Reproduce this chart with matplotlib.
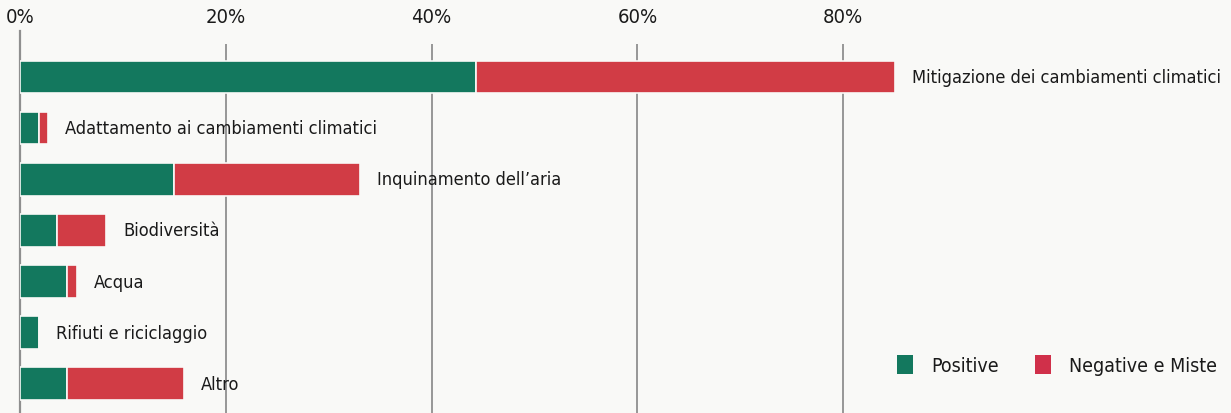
import numpy as np
import matplotlib
matplotlib.use("Agg")
import matplotlib.pyplot as plt
from matplotlib.patches import Patch

plt.rcParams['font.family'] = ['DejaVu Sans']
plt.rcParams['font.stretch'] = 'condensed'

# share of projects by environmental objective (%)
categories = [
    "Mitigazione dei cambiamenti climatici",
    "Adattamento ai cambiamenti climatici",
    "Inquinamento dell\u2019aria",
    "Biodiversità",
    "Acqua",
    "Rifiuti e riciclaggio",
    "Altro",
]
positive = [44.3, 1.8, 15.0, 3.6, 4.6, 1.8, 4.6]
negative = [40.7, 0.9, 18.0, 4.8, 0.9, 0.0, 11.3]
ticks = [0, 20, 40, 60, 80]
tick_labels = ["0%", "20%", "40%", "60%", "80%"]
legend_labels = ["Positive", "Negative e Miste"]

green = "#13785e"
red = "#d13c45"
bg = "#f9f9f7"

fig = plt.figure(figsize=(12.31, 4.14), dpi=100, facecolor=bg)
ax = fig.add_axes([20 / 1231, 0.0, 1 - 20 / 1231, 1 - 45 / 414])
ax.set_facecolor(bg)

y = np.arange(len(categories))
pos = np.array(positive)
neg = np.array(negative)

ax.barh(y, pos, height=0.64, color=green, edgecolor=bg, linewidth=1.2, zorder=3)
ax.barh(y, neg, left=pos, height=0.64, color=red, edgecolor=bg, linewidth=1.2, zorder=3)

for i, name in enumerate(categories):
    ax.annotate(name, (pos[i] + neg[i], y[i]), xytext=(12.5, 0),
                textcoords="offset points", va="center", ha="left",
                fontsize=13.1, color="#1a1a1a", zorder=4)

ax.set_xlim(0, (1231 - 20) / 10.29)
ax.set_ylim(6.57, -0.645)

# vertical reference lines
for t in ticks[1:]:
    ax.axvline(t, color="#8f8f8f", lw=1.3, zorder=1)
ax.axvline(0, ymin=0, ymax=1.035, color="#8f8f8f", lw=1.6, zorder=1, clip_on=False)

ax.xaxis.tick_top()
ax.set_xticks(ticks)
ax.set_xticklabels(tick_labels, fontsize=14.5, color="#1a1a1a")
ax.tick_params(axis="x", length=0, pad=13)
ax.set_yticks([])
for s in ax.spines.values():
    s.set_visible(False)

handles = [Patch(facecolor=green, edgecolor="none"), Patch(facecolor="#d0304a", edgecolor="none")]
ax.legend(handles, legend_labels, loc="lower right", bbox_to_anchor=(1.003, 0.055),
          ncol=2, frameon=False, fontsize=14, handlelength=0.8, handleheight=1.1,
          handletextpad=0.95, columnspacing=1.85, labelcolor="#1a1a1a")

fig.savefig("out.png", dpi=100, facecolor=bg)
